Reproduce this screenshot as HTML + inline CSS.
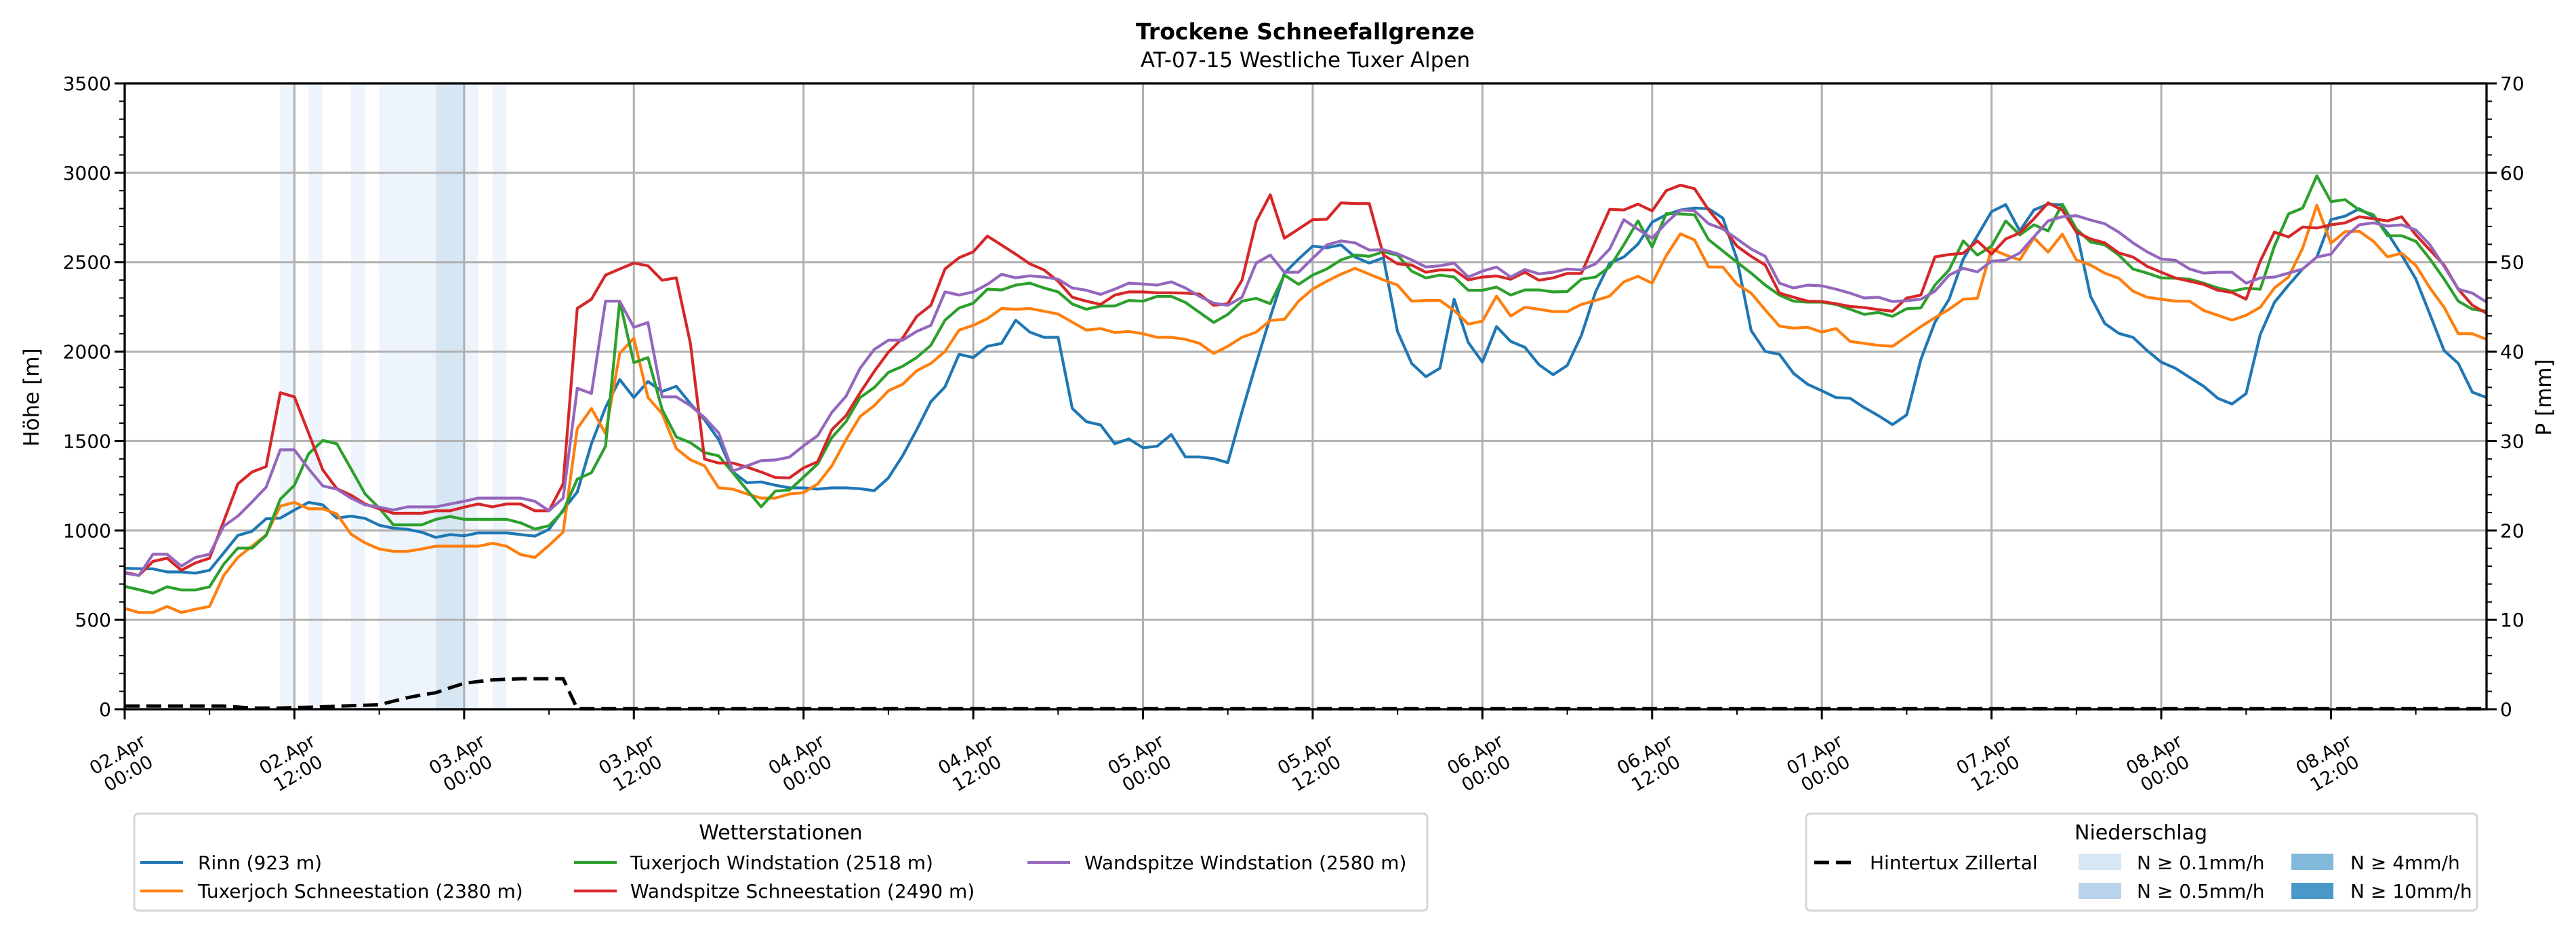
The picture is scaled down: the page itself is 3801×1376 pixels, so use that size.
<!DOCTYPE html>
<html><head><meta charset="utf-8"><style>
html,body{margin:0;padding:0;background:#fff;}
svg text{font-family:"DejaVu Sans","Liberation Sans",sans-serif;fill:#000;}
</style></head><body>
<svg id="chart" xmlns="http://www.w3.org/2000/svg" width="3801" height="1371" viewBox="0 0 3801 1371">
<rect x="0" y="0" width="3801" height="1371" fill="#fff"/>
<text x="1926" y="58" font-size="33" font-weight="bold" text-anchor="middle">Trockene Schneefallgrenze</text>
<text x="1926" y="99" font-size="31" text-anchor="middle">AT-07-15 Westliche Tuxer Alpen</text>
<g id="bands"></g>
<g id="grid"></g>
<g id="series"></g>
<g id="axes"></g>
<text transform="translate(57,586) rotate(-90)" font-size="31" text-anchor="middle">Höhe [m]</text>
<text transform="translate(3764,586) rotate(-90)" font-size="31" text-anchor="middle">P [mm]</text>

<g>
<rect x="198" y="1200" width="1908" height="143" rx="6" fill="#fff" stroke="#d5d5d5" stroke-width="3"/>
<text x="1152" y="1238" font-size="30" text-anchor="middle">Wetterstationen</text>
<line x1="207" y1="1272" x2="270" y2="1272" stroke="#1f77b4" stroke-width="4.2"/>
<text x="292" y="1282" font-size="28">Rinn (923 m)</text>
<line x1="207" y1="1314" x2="270" y2="1314" stroke="#ff7f0e" stroke-width="4.2"/>
<text x="292" y="1324" font-size="28">Tuxerjoch Schneestation (2380 m)</text>
<line x1="847" y1="1272" x2="910" y2="1272" stroke="#2ca02c" stroke-width="4.2"/>
<text x="930" y="1282" font-size="28">Tuxerjoch Windstation (2518 m)</text>
<line x1="847" y1="1314" x2="910" y2="1314" stroke="#d62728" stroke-width="4.2"/>
<text x="930" y="1324" font-size="28">Wandspitze Schneestation (2490 m)</text>
<line x1="1516" y1="1272" x2="1579" y2="1272" stroke="#9467bd" stroke-width="4.2"/>
<text x="1600" y="1282" font-size="28">Wandspitze Windstation (2580 m)</text>
</g>

<g>
<rect x="2665" y="1200" width="990" height="143" rx="6" fill="#fff" stroke="#d5d5d5" stroke-width="3"/>
<text x="3159" y="1238" font-size="30" text-anchor="middle">Niederschlag</text>
<line x1="2677" y1="1272" x2="2734" y2="1272" stroke="#000" stroke-width="5" stroke-dasharray="22,10"/>
<text x="2759" y="1282" font-size="28">Hintertux Zillertal</text>
<rect x="3067" y="1259" width="63" height="24" fill="#d8e7f5"/>
<text x="3153" y="1282" font-size="28">N ≥ 0.1mm/h</text>
<rect x="3067" y="1302" width="63" height="24" fill="#b9d4ea"/>
<text x="3153" y="1324" font-size="28">N ≥ 0.5mm/h</text>
<rect x="3381" y="1259" width="62" height="24" fill="#82b9db"/>
<text x="3468" y="1282" font-size="28">N ≥ 4mm/h</text>
<rect x="3381" y="1302" width="62" height="24" fill="#4a98c9"/>
<text x="3468" y="1324" font-size="28">N ≥ 10mm/h</text>
</g>
</svg>
<script>
const xTickHours = [0,12,24,36,48,60,72,84,96,108,120,132,144,156];
const xTickDays = ["02.Apr","02.Apr","03.Apr","03.Apr","04.Apr","04.Apr","05.Apr","05.Apr","06.Apr","06.Apr","07.Apr","07.Apr","08.Apr","08.Apr"];
const xTickTimes = ["00:00","12:00","00:00","12:00","00:00","12:00","00:00","12:00","00:00","12:00","00:00","12:00","00:00","12:00"];
const yTicks = [0,500,1000,1500,2000,2500,3000,3500];
const y2Ticks = [0,10,20,30,40,50,60,70];
const bandHours = [11,13,16,18,19,20,21,22,23,24,26];
const bandLevels = [1,1,1,1,1,1,1,2,2,1,1];
const rinn = [788,786,785,768,768,761,777,874,972,995,1065,1069,1114,1157,1143,1069,1080,1067,1029,1013,1006,990,961,977,970,986,986,986,977,968,1006,1114,1215,1485,1687,1844,1743,1833,1777,1806,1709,1619,1507,1327,1267,1271,1253,1238,1238,1231,1238,1238,1233,1222,1294,1417,1563,1720,1803,1985,1967,2030,2046,2176,2109,2080,2080,1682,1608,1590,1485,1512,1462,1471,1536,1411,1411,1402,1379,1664,1934,2192,2439,2518,2590,2581,2597,2529,2495,2525,2113,1934,1860,1907,2293,2051,1941,2140,2057,2024,1927,1871,1923,2091,2334,2495,2529,2601,2724,2765,2792,2803,2799,2747,2518,2118,2001,1985,1878,1817,1781,1743,1739,1687,1642,1592,1646,1956,2165,2293,2518,2648,2783,2822,2675,2792,2825,2821,2675,2309,2158,2102,2080,2006,1941,1907,1856,1806,1739,1707,1765,2096,2275,2372,2462,2529,2738,2758,2799,2754,2664,2540,2406,2208,2006,1934,1773,1743];
const tuxSchnee = [564,541,541,575,541,559,575,748,849,912,975,1136,1157,1121,1121,1092,979,930,896,883,883,896,912,912,912,912,928,912,865,849,916,990,1570,1682,1541,1990,2075,1743,1653,1458,1395,1361,1238,1231,1204,1181,1181,1204,1211,1260,1361,1507,1637,1698,1781,1817,1893,1934,2001,2120,2147,2185,2241,2237,2241,2226,2210,2165,2120,2129,2107,2113,2100,2080,2080,2069,2046,1990,2030,2080,2109,2174,2181,2282,2350,2394,2433,2466,2433,2401,2372,2282,2286,2286,2230,2154,2170,2311,2199,2248,2237,2224,2224,2264,2286,2311,2390,2421,2383,2536,2659,2624,2473,2473,2376,2327,2233,2143,2131,2136,2109,2129,2057,2046,2035,2030,2085,2140,2190,2237,2293,2298,2574,2540,2513,2637,2556,2657,2513,2484,2439,2410,2338,2304,2293,2282,2282,2230,2203,2176,2203,2248,2356,2417,2579,2819,2606,2671,2673,2617,2530,2550,2482,2356,2248,2100,2100,2069];
const tuxWind = [687,669,649,685,667,667,685,811,901,901,972,1175,1253,1428,1503,1485,1345,1204,1125,1031,1031,1031,1062,1078,1062,1062,1062,1062,1042,1008,1026,1107,1287,1323,1471,2282,1938,1967,1676,1523,1491,1435,1417,1323,1226,1132,1220,1226,1298,1372,1519,1608,1743,1799,1884,1918,1967,2035,2176,2244,2271,2349,2345,2372,2383,2356,2334,2266,2237,2255,2255,2286,2282,2309,2309,2275,2219,2163,2208,2282,2298,2268,2428,2376,2428,2462,2513,2540,2533,2558,2540,2450,2412,2428,2417,2343,2343,2361,2316,2345,2345,2334,2336,2405,2417,2473,2597,2731,2585,2772,2770,2765,2626,2563,2500,2439,2372,2316,2282,2277,2277,2264,2237,2208,2219,2197,2240,2244,2372,2457,2619,2540,2590,2731,2653,2709,2675,2825,2686,2613,2597,2540,2462,2439,2412,2410,2405,2383,2356,2338,2354,2349,2590,2770,2803,2983,2839,2850,2792,2765,2648,2648,2617,2518,2406,2282,2237,2226];
const wandSchnee = [766,748,827,845,777,818,845,1051,1260,1327,1357,1770,1747,1545,1339,1233,1197,1148,1121,1096,1096,1096,1110,1110,1130,1148,1132,1148,1148,1110,1110,1260,2242,2293,2428,2462,2495,2480,2399,2413,2046,1399,1377,1377,1354,1327,1296,1294,1350,1384,1563,1642,1770,1889,1997,2075,2197,2259,2462,2525,2558,2646,2596,2545,2491,2457,2394,2304,2282,2264,2316,2334,2334,2329,2329,2327,2322,2259,2268,2399,2727,2877,2634,2686,2738,2740,2832,2828,2828,2540,2491,2484,2444,2457,2457,2401,2417,2423,2405,2444,2399,2412,2437,2437,2619,2796,2792,2825,2787,2900,2931,2911,2792,2697,2590,2533,2484,2327,2304,2282,2280,2268,2253,2246,2235,2226,2300,2316,2530,2543,2550,2619,2545,2630,2664,2743,2832,2792,2668,2630,2608,2552,2529,2477,2444,2412,2394,2376,2343,2331,2293,2506,2668,2641,2697,2691,2709,2720,2754,2743,2731,2754,2653,2568,2484,2349,2259,2215];
const wandWind = [761,748,867,867,800,849,867,1024,1080,1159,1242,1451,1451,1345,1249,1231,1181,1143,1130,1114,1132,1132,1132,1148,1163,1181,1181,1181,1181,1163,1110,1181,1795,1766,2282,2282,2136,2163,1747,1747,1698,1631,1545,1332,1361,1390,1394,1410,1473,1530,1660,1750,1907,2012,2064,2064,2113,2147,2334,2316,2334,2376,2432,2413,2424,2417,2405,2356,2343,2320,2349,2383,2378,2372,2390,2356,2309,2271,2259,2304,2495,2540,2444,2444,2522,2597,2619,2608,2568,2570,2547,2513,2473,2480,2495,2417,2450,2473,2417,2459,2435,2444,2462,2457,2491,2574,2738,2684,2634,2720,2792,2787,2715,2686,2630,2574,2533,2383,2356,2372,2368,2349,2327,2300,2304,2280,2285,2293,2338,2428,2466,2446,2506,2511,2552,2642,2731,2754,2760,2736,2715,2668,2608,2558,2518,2511,2462,2439,2444,2444,2383,2412,2417,2439,2462,2529,2545,2642,2709,2720,2702,2709,2680,2597,2477,2349,2327,2277];
const precipHintertux = [0.36,0.36,0.36,0.36,0.36,0.36,0.36,0.36,0.25,0.13,0.13,0.13,0.2,0.22,0.27,0.33,0.4,0.45,0.5,0.9,1.3,1.6,1.85,2.4,2.9,3.1,3.28,3.35,3.41,3.41,3.41,3.41,
0.05,0.05,0.05,0.05,0.05,0.05,0.05,0.05,0.05,0.05,0.05,0.05,0.05,0.05,0.05,0.05,0.05,0.05,0.05,0.05,0.05,0.05,0.05,0.05,0.05,0.05,0.05,0.05,0.05,0.05,0.05,0.05,0.05,0.05,
0.05,0.05,0.05,0.05,0.05,0.05,0.05,0.05,0.05,0.05,0.05,0.05,0.05,0.05,0.05,0.05,0.05,0.05,0.05,0.05,0.05,0.05,0.05,0.05,0.05,0.05,0.05,0.05,0.05,0.05,0.05,0.05,0.05,0.05,
0.05,0.05,0.05,0.05,0.05,0.05,0.05,0.05,0.05,0.05,0.05,0.05,0.05,0.05,0.05,0.05,0.05,0.05,0.05,0.05,0.05,0.05,0.05,0.05,0.05,0.05,0.05,0.05,0.05,0.05,0.05,0.05,0.05,0.05,
0.05,0.05,0.05,0.05,0.05,0.05,0.05,0.05,0.05,0.05,0.05,0.05,0.05,0.05,0.05,0.05,0.05,0.05,0.05,0.05,0.05,0.05,0.05,0.05,0.05,0.05,0.05,0.05,0.05,0.05,0.05,0.05,0.05,0.05];

const NS='http://www.w3.org/2000/svg';
const L=184, R=3669, T=123, B=1046, XMAX=167, YMAX=3500, Y2MAX=70;
function xs(h){return L+(R-L)*h/XMAX;}
function ys(v){return B-(B-T)*v/YMAX;}
function y2s(v){return B-(B-T)*v/Y2MAX;}
function mk(tag,attrs,parent){const e=document.createElementNS(NS,tag);for(const k in attrs)e.setAttribute(k,attrs[k]);parent.appendChild(e);return e;}

const gB=document.getElementById('bands');
bandHours.forEach((h,i)=>{
  const r=mk('rect',{x:xs(h),y:T,width:xs(h+1)-xs(h),height:B-T,fill:bandLevels[i]===2?'#d6e6f3':'#eef4fb'},gB);
  
  
});

const gG=document.getElementById('grid');
yTicks.forEach(v=>{
  const l=mk('line',{x1:L,x2:R,y1:ys(v),y2:ys(v),stroke:'#b0b0b0','stroke-width':3},gG);
  
  
});
xTickHours.forEach(h=>{
  const l=mk('line',{x1:xs(h),x2:xs(h),y1:T,y2:B,stroke:'#b0b0b0','stroke-width':3},gG);
  
  
});

const gS=document.getElementById('series');
const seriesList=[[rinn,'#1f77b4','line-rinn'],[tuxSchnee,'#ff7f0e','line-tuxerjoch-schnee'],[tuxWind,'#2ca02c','line-tuxerjoch-wind'],[wandSchnee,'#d62728','line-wandspitze-schnee'],[wandWind,'#9467bd','line-wandspitze-wind']];
seriesList.forEach(s=>{
  const pts=s[0].map((v,i)=>xs(i).toFixed(1)+','+ys(v).toFixed(1)).join(' ');
  const p=mk('polyline',{points:pts,fill:'none',stroke:s[1],'stroke-width':4.2,'stroke-linejoin':'round'},gS);
  
  
});
const pp=precipHintertux.map((v,i)=>xs(i).toFixed(1)+','+y2s(v).toFixed(1)).join(' ');
const dl=mk('polyline',{points:pp,fill:'none',stroke:'#000','stroke-width':5,'stroke-dasharray':'22,10'},gS);



const gA=document.getElementById('axes');
const fr=mk('rect',{x:L,y:T,width:R-L,height:B-T,fill:'none',stroke:'#000','stroke-width':3.3},gA);


for(let v=0;v<=YMAX;v+=100){
  const major=v%500===0;
  const t=mk('line',{x1:L-(major?15:8),x2:L,y1:ys(v),y2:ys(v),stroke:'#000','stroke-width':major?3:2},gA);
  
  
  const t2=mk('line',{x1:R,x2:R+(major?15:8),y1:ys(v),y2:ys(v),stroke:'#000','stroke-width':major?3:2},gA);
  
  
}
yTicks.forEach(v=>{
  const t=mk('text',{x:L-20,y:ys(v)+10,'font-size':28,'text-anchor':'end'},gA);
  t.textContent=String(v);
  
  
});
y2Ticks.forEach(v=>{
  const t=mk('text',{x:R+20,y:y2s(v)+10,'font-size':28,'text-anchor':'start'},gA);
  t.textContent=String(v);
  
  
});
for(let h=0;h<=XMAX;h+=6){
  const major=h%12===0;
  const t=mk('line',{x1:xs(h),x2:xs(h),y1:B,y2:B+(major?15:8),stroke:'#000','stroke-width':major?3:2},gA);
  
  
}
xTickHours.forEach((h,i)=>{
  const g=mk('g',{transform:'translate('+(xs(h)-3)+',1126) rotate(-30)'},gA);
  
  
  const a=mk('text',{x:0,y:-6,'font-size':27,'text-anchor':'middle'},g);
  a.textContent=xTickDays[i];
  const b=mk('text',{x:0,y:26,'font-size':27,'text-anchor':'middle'},g);
  b.textContent=xTickTimes[i];
});
</script>
</body></html>
